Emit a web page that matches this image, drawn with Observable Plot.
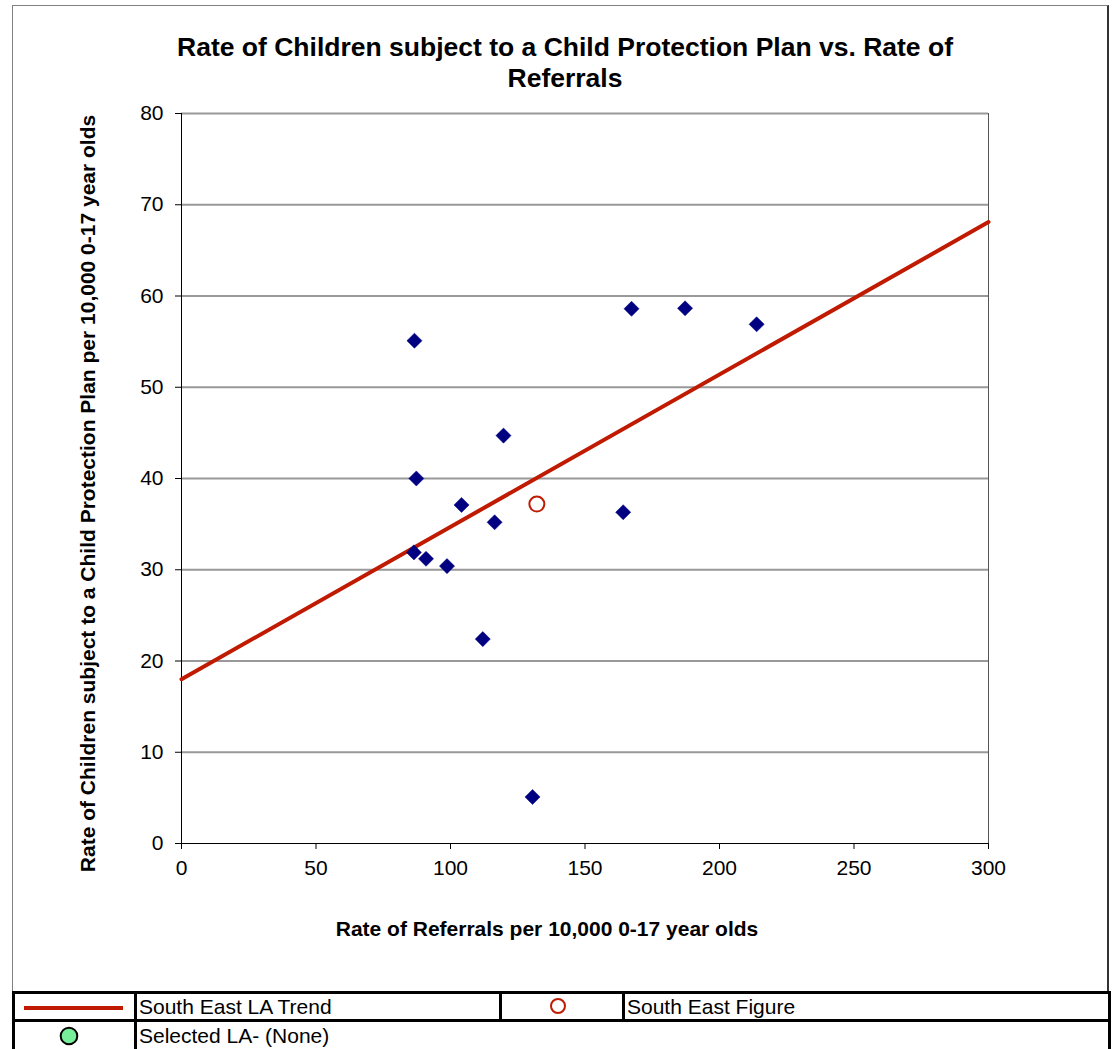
<!DOCTYPE html>
<html><head><meta charset="utf-8">
<script src="https://cdn.jsdelivr.net/npm/d3@7"></script>
<script src="https://cdn.jsdelivr.net/npm/@observablehq/plot@0.6"></script>
<style>
body{margin:0;background:#fff;font-family:"Liberation Sans",Arial,sans-serif;}
#wrap{position:relative;width:1113px;height:1049px;overflow:hidden;background:#fff;}
#frame{position:absolute;left:12px;top:5px;width:1097px;height:988px;border-left:1px solid #808080;border-top:1px solid #808080;border-right:2px solid #333;box-sizing:border-box;}
#title{position:absolute;left:65px;width:1000px;top:32px;text-align:center;font-weight:bold;font-size:26.5px;line-height:31px;color:#000;}
#chart{position:absolute;left:0;top:0;}
.ln{position:absolute;background:#000;}
.lt{position:absolute;font-size:21px;line-height:24px;color:#000;white-space:nowrap;}
.sym{position:absolute;}
</style></head>
<body><div id="wrap">
<div id="frame"></div>
<div id="chart"></div>
<div id="title">Rate of Children subject to a Child Protection Plan vs. Rate of<br>Referrals</div>
<div id="legend"></div>
</div>
<script>
// data
const referrals = [86.6, 167.3, 187.2, 213.8, 119.7, 87.3, 104.1, 116.4, 164.2, 86.4, 90.9, 98.7, 112.0, 130.5];
const cppRates  = [55.1, 58.6, 58.65, 56.9, 44.7, 40.0, 37.1, 35.2, 36.3, 31.9, 31.2, 30.4, 22.4, 5.1];
const southEastX = [132.1];
const southEastY = [37.2];
const trendX = [0, 300];
const trendY = [18.0, 68.1];
const xTicks = [0, 50, 100, 150, 200, 250, 300];
const yTicks = [0, 10, 20, 30, 40, 50, 60, 70, 80];
const xLabel = "Rate of Referrals per 10,000 0-17 year olds";
const yLabel = "Rate of Children subject to a Child Protection Plan per 10,000 0-17 year olds";
const legendLabels = ["South East LA Trend", "South East Figure", "Selected LA- (None)"];

const points = referrals.map((x, i) => ({x, y: cppRates[i]}));
const se = southEastX.map((x, i) => ({x, y: southEastY[i]}));
const trend = trendX.map((x, i) => ({x, y: trendY[i]}));

const red = "#c01a00";

const chart = Plot.plot({
  width: 1113, height: 990,
  marginLeft: 181, marginRight: 125, marginTop: 113, marginBottom: 147,
  x: {domain: [0, 300]},
  y: {domain: [0, 80]},
  style: {fontFamily: "'Liberation Sans', Arial, sans-serif", fontSize: "21px", color: "#000", background: "transparent"},
  marks: [
    Plot.gridY(yTicks.filter(d => d > 0), {stroke: "#999", strokeWidth: 2, strokeOpacity: 1}),
    Plot.ruleX([300], {stroke: "#555", strokeWidth: 1}),
    Plot.axisX({ticks: xTicks, tickSize: 6, tickPadding: 11, label: null, tickFormat: d => String(d)}),
    Plot.axisY({ticks: yTicks, tickSize: 6, tickPadding: 12, label: null, tickFormat: d => String(d)}),
    Plot.ruleX([0], {stroke: "#000"}),
    Plot.ruleY([0], {stroke: "#000"}),
    Plot.line(trend, {x: "x", y: "y", stroke: red, strokeWidth: 4, strokeLinecap: "round"}),
    Plot.dot(points, {x: "x", y: "y", symbol: "diamond2", r: 6.8, fill: "#000080", stroke: "#000080", strokeWidth: 0.5}),
    Plot.dot(se, {x: "x", y: "y", r: 7.5, stroke: red, strokeWidth: 2, fill: "#fff"}),
    Plot.text([xLabel], {text: d => d, frameAnchor: "bottom", textAnchor: "middle", dx: -38, dy: 92, fontWeight: "bold", fontSize: 21}),
    Plot.text([yLabel], {text: d => d, frameAnchor: "left", textAnchor: "middle", dx: -93, dy: 15, rotate: -90, fontWeight: "bold", fontSize: 21})
  ]
});
document.getElementById("chart").appendChild(chart);

// legend table
const lg = document.getElementById("legend");
function line(x, y, w, h) {
  const d = document.createElement("div");
  d.className = "ln";
  Object.assign(d.style, {left: x + "px", top: y + "px", width: w + "px", height: h + "px"});
  lg.appendChild(d);
}
line(12, 991, 1099, 3);
line(12, 1019, 1099, 3);
line(12, 991, 3, 58);
line(134, 991, 3, 58);
line(499, 991, 3, 30);
line(622, 991, 3, 30);
line(1108, 991, 3, 58);
function label(text, x, y) {
  const d = document.createElement("div");
  d.className = "lt";
  d.textContent = text;
  Object.assign(d.style, {left: x + "px", top: y + "px"});
  lg.appendChild(d);
}
label(legendLabels[0], 139, 995);
label(legendLabels[1], 627, 995);
label(legendLabels[2], 139, 1024);
function sym(html, x, y, w, h) {
  const d = document.createElement("div");
  d.className = "sym";
  Object.assign(d.style, {left: x + "px", top: y + "px", width: w + "px", height: h + "px"});
  d.innerHTML = `<svg width="${w}" height="${h}">${html}</svg>`;
  lg.appendChild(d);
}
sym(`<line x1="2" y1="6" x2="101" y2="6" stroke="${red}" stroke-width="4"/>`, 22, 1000, 104, 12);
sym(`<circle cx="10" cy="10" r="7" fill="#fff" stroke="${red}" stroke-width="2"/>`, 548, 996, 20, 20);
sym(`<circle cx="11" cy="11" r="8.3" fill="#77ee99" stroke="#000" stroke-width="2"/>`, 58, 1025, 22, 22);
</script>
</body></html>
